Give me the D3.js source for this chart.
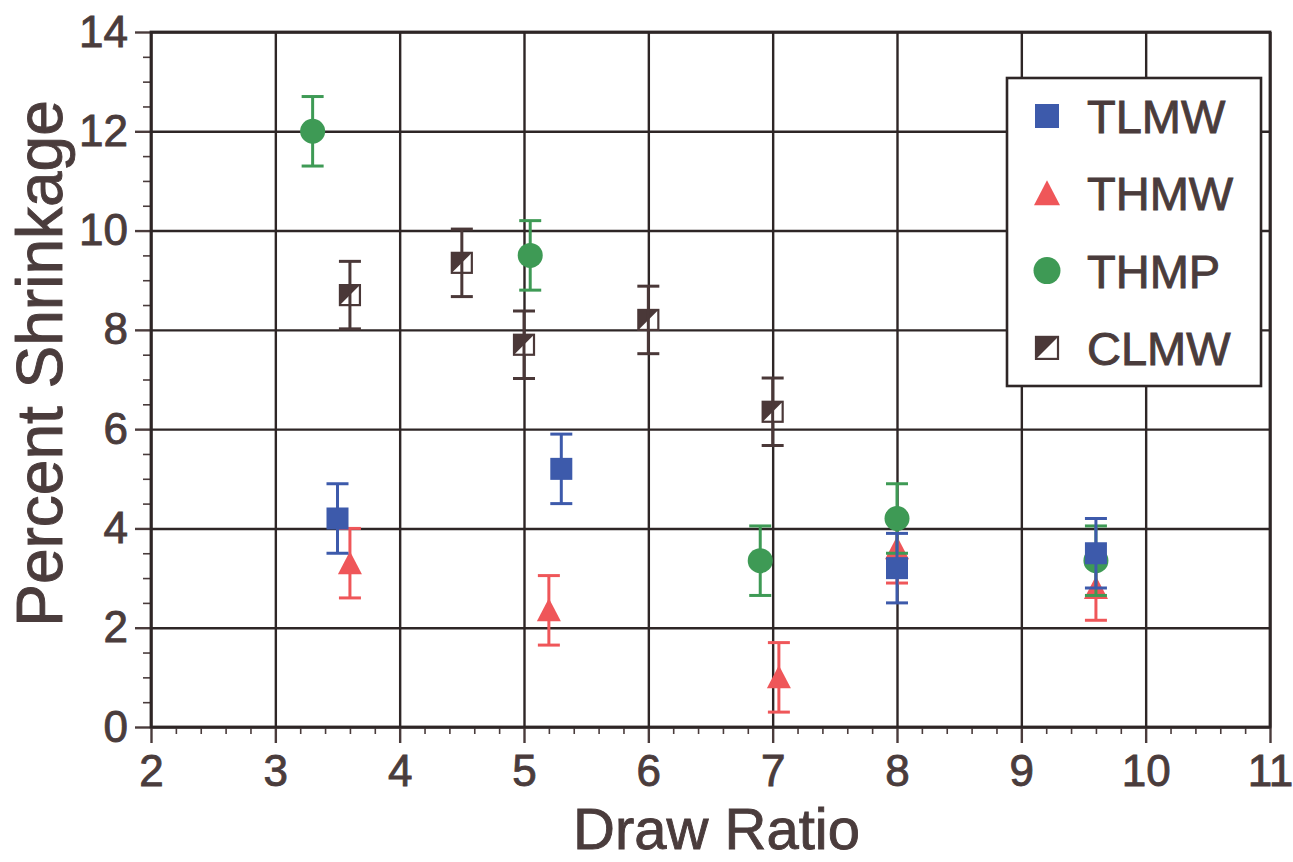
<!DOCTYPE html>
<html>
<head>
<meta charset="utf-8">
<script src="https://cdn.jsdelivr.net/npm/d3@7"></script>
<style>
  html, body { margin: 0; padding: 0; background: #fff; }
  svg { display: block; }
  text { font-family: "Liberation Sans", Arial, Helvetica, sans-serif; fill: #4a3c3c; stroke: #4a3c3c; stroke-width: 0.9px; }
</style>
</head>
<body>
<svg id="chart" width="1293" height="862"></svg>
<script>
// Draw ratio (x) and percent shrinkage (y) with symmetric error half-widths, per fibre type.
const seriesNames = ["TLMW", "THMW", "THMP", "CLMW"];

const tlmwX = [3.5, 5.3, 8.0, 9.6];
const tlmwY = [4.2, 5.2, 3.2, 3.5];
const tlmwErr = [0.7, 0.7, 0.7, 0.7];

const thmwX = [3.6, 5.2, 7.05, 8.0, 9.6];
const thmwY = [3.3, 2.35, 1.0, 3.6, 2.8];
const thmwErr = [0.7, 0.7, 0.7, 0.7, 0.65];

const thmpX = [3.3, 5.05, 6.9, 8.0, 9.6];
const thmpY = [12.0, 9.5, 3.35, 4.2, 3.35];
const thmpErr = [0.7, 0.7, 0.7, 0.7, 0.7];

const clmwX = [3.6, 4.5, 5.0, 6.0, 7.0];
const clmwY = [8.7, 9.35, 7.7, 8.2, 6.35];
const clmwErr = [0.68, 0.68, 0.68, 0.68, 0.68];

const xTicks = [2, 3, 4, 5, 6, 7, 8, 9, 10, 11];
const yTicks = [0, 2, 4, 6, 8, 10, 12, 14];

const ink = "#4a3c3c";
const colors = { TLMW: "#3d5aab", THMW: "#ef5659", THMP: "#3e9a55", CLMW: "#4a3838" };

const zip = (xs, ys, es) => xs.map((v, i) => ({ x: v, y: ys[i], e: es[i] }));
const data = {
  TLMW: zip(tlmwX, tlmwY, tlmwErr),
  THMW: zip(thmwX, thmwY, thmwErr),
  THMP: zip(thmpX, thmpY, thmpErr),
  CLMW: zip(clmwX, clmwY, clmwErr)
};

const svg = d3.select("#chart");
const plotL = 151, plotR = 1270, plotT = 32, plotB = 727;

const x = d3.scaleLinear().domain([2, 11]).range([plotL, plotR]);
const y = d3.scaleLinear().domain([0, 14]).range([plotB, plotT]);

// Grid lines at every major tick
const grid = svg.append("g");
grid.append("g")
  .attr("transform", `translate(0,${plotB})`)
  .call(d3.axisBottom(x).tickValues(xTicks).tickSize(-(plotB - plotT)).tickFormat(""))
  .call(g => g.select(".domain").remove())
  .call(g => g.selectAll("line").attr("stroke", "#2e2626").attr("stroke-width", 2.4));
grid.append("g")
  .attr("transform", `translate(${plotL},0)`)
  .call(d3.axisLeft(y).tickValues(yTicks).tickSize(-(plotR - plotL)).tickFormat(""))
  .call(g => g.select(".domain").remove())
  .call(g => g.selectAll("line").attr("stroke", "#2e2626").attr("stroke-width", 2.4));

// Minor ticks
const xMinor = d3.range(2, 11.001, 0.2).filter(v => Math.abs(v - Math.round(v)) > 1e-6);
const yMinor = d3.range(0, 14.001, 0.5).filter(v => Math.abs(v / 2 - Math.round(v / 2)) > 1e-6);
svg.append("g")
  .attr("transform", `translate(0,${plotB})`)
  .call(d3.axisBottom(x).tickValues(xMinor).tickSize(7).tickFormat(""))
  .call(g => g.select(".domain").remove())
  .call(g => g.selectAll("line").attr("stroke", ink).attr("stroke-width", 1.6));
svg.append("g")
  .attr("transform", `translate(${plotL},0)`)
  .call(d3.axisLeft(y).tickValues(yMinor).tickSize(8).tickFormat(""))
  .call(g => g.select(".domain").remove())
  .call(g => g.selectAll("line").attr("stroke", ink).attr("stroke-width", 1.6));

// Major axes with labels
svg.append("g")
  .attr("transform", `translate(0,${plotB})`)
  .call(d3.axisBottom(x).tickValues(xTicks).tickSize(16).tickPadding(12).tickFormat(d3.format("d")))
  .call(g => g.select(".domain").remove())
  .call(g => g.selectAll("line").attr("stroke", ink).attr("stroke-width", 2.4))
  .call(g => g.selectAll("text").attr("font-size", 44).attr("fill", ink)
    .style("font-family", '"Liberation Sans", Arial, sans-serif'));
svg.append("g")
  .attr("transform", `translate(${plotL},0)`)
  .call(d3.axisLeft(y).tickValues(yTicks).tickSize(16).tickPadding(7).tickFormat(d3.format("d")))
  .call(g => g.select(".domain").remove())
  .call(g => g.selectAll("line").attr("stroke", ink).attr("stroke-width", 2.4))
  .call(g => g.selectAll("text").attr("font-size", 44).attr("fill", ink)
    .style("font-family", '"Liberation Sans", Arial, sans-serif'));

// Plot frame
svg.append("rect")
  .attr("x", plotL).attr("y", plotT)
  .attr("width", plotR - plotL).attr("height", plotB - plotT)
  .attr("fill", "none").attr("stroke", "#2e2626").attr("stroke-width", 2.8);

// Axis titles
svg.append("text")
  .attr("x", (plotL + plotR) / 2 + 6).attr("y", 849)
  .attr("text-anchor", "middle").attr("font-size", 58)
  .text("Draw Ratio");
svg.append("text")
  .attr("transform", `translate(62,${(plotT + plotB) / 2 - 16}) rotate(-90)`)
  .attr("text-anchor", "middle").attr("font-size", 64)
  .text("Percent Shrinkage");

// Marker painters
const S = 22;
function drawMarker(g, name, cx, cy, size) {
  const h = size / 2;
  if (name === "TLMW") {
    g.append("rect").attr("x", cx - h).attr("y", cy - h).attr("width", size).attr("height", size)
      .attr("fill", colors.TLMW);
  } else if (name === "THMW") {
    g.append("path")
      .attr("d", `M${cx},${cy - h - 1}L${cx + h + 1},${cy + h}L${cx - h - 1},${cy + h}Z`)
      .attr("fill", colors.THMW);
  } else if (name === "THMP") {
    g.append("circle").attr("cx", cx).attr("cy", cy).attr("r", h + 1.5).attr("fill", colors.THMP);
  } else {
    g.append("rect").attr("x", cx - h + 1).attr("y", cy - h + 1).attr("width", size - 2).attr("height", size - 2)
      .attr("fill", "#fff").attr("stroke", colors.CLMW).attr("stroke-width", 2.2);
    g.append("path")
      .attr("d", `M${cx - h + 1},${cy - h + 1}L${cx + h - 1},${cy - h + 1}L${cx - h + 1},${cy + h - 1}Z`)
      .attr("fill", colors.CLMW);
  }
}

function drawErrors(g, name, pts) {
  const c = colors[name];
  pts.forEach(p => {
    const cx = x(p.x);
    g.append("line").attr("x1", cx).attr("x2", cx).attr("y1", y(p.y + p.e)).attr("y2", y(p.y - p.e))
      .attr("stroke", c).attr("stroke-width", 3);
    [p.y + p.e, p.y - p.e].forEach(v => {
      g.append("line").attr("x1", cx - 11).attr("x2", cx + 11).attr("y1", y(v)).attr("y2", y(v))
        .attr("stroke", c).attr("stroke-width", 3);
    });
  });
}

// Series drawn in stacking order
["THMW", "THMP", "TLMW"].forEach(name => {
  const g = svg.append("g").attr("class", "series-" + name);
  drawErrors(g, name, data[name]);
  data[name].forEach(p => drawMarker(g, name, x(p.x), y(p.y), S));
});
{
  const g = svg.append("g").attr("class", "series-CLMW");
  data.CLMW.forEach(p => drawMarker(g, "CLMW", x(p.x), y(p.y), S));
  drawErrors(g, "CLMW", data.CLMW);
}

// Legend
const legend = svg.append("g");
legend.append("rect")
  .attr("x", 1007).attr("y", 78).attr("width", 254).attr("height", 308)
  .attr("fill", "#fff").attr("stroke", "#2e2626").attr("stroke-width", 2.6);
seriesNames.forEach((name, i) => {
  const ly = 116 + i * 77.3;
  drawMarker(legend, name, 1047, ly, 24);
  legend.append("text")
    .attr("x", 1087).attr("y", ly).attr("dy", "0.36em")
    .attr("font-size", 47)
    .text(name);
});
</script>
</body>
</html>
